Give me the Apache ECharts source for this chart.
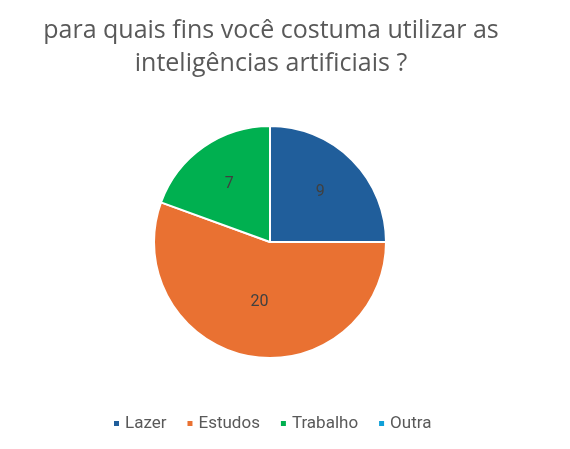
<!DOCTYPE html>
<html><head><meta charset="utf-8">
<script src="https://cdn.jsdelivr.net/npm/echarts@6/dist/echarts.min.js"></script>
<style>html,body{margin:0;padding:0;background:#fff}#c{width:570px;height:449px}</style>
</head><body><div id="c"></div>
<script>
const titleLines = ['para quais fins você costuma utilizar as', 'inteligências artificiais ?'];
const categories = ['Lazer', 'Estudos', 'Trabalho', 'Outra'];
const values = [9, 20, 7, 0];
const colors = ['#205E9B', '#E97132', '#00B050', '#10A0D8'];
const outerLabelCats = ['Lazer', 'Trabalho'];

const chart = echarts.init(document.getElementById('c'), null, {renderer: 'canvas'});
const font = 'Roboto, "Open Sans", sans-serif';
const mainData = categories.map((c, i) => ({
  name: c, value: values[i],
  itemStyle: {color: colors[i]},
  label: {show: values[i] > 0 && !outerLabelCats.includes(c)}
}));
const overlayData = categories.map((c, i) => ({
  name: c, value: values[i],
  label: {show: values[i] > 0 && outerLabelCats.includes(c)}
}));
chart.setOption({
  animation: false,
  title: {
    text: titleLines.join('\n'),
    left: 266, top: 9, textAlign: 'center',
    textStyle: {fontFamily: '"Open Sans", sans-serif', fontSize: 25, fontWeight: 'normal', color: '#595959', lineHeight: 33}
  },
  legend: {
    data: categories,
    top: 410, left: 107,
    icon: 'rect', itemWidth: 7, itemHeight: 7, itemGap: 19,
    textStyle: {fontFamily: font, fontSize: 17, color: '#595959'}
  },
  series: [{
    type: 'pie', radius: [0, 116], center: [270, 242],
    startAngle: 90, clockwise: true,
    data: mainData,
    itemStyle: {borderColor: '#fff', borderWidth: 2},
    label: {position: 'inside', fontFamily: font, fontSize: 16, color: '#404040', formatter: '{c}'},
    labelLine: {show: false},
    emphasis: {disabled: true}
  }, {
    type: 'pie', radius: [0, 136], center: [270, 242],
    startAngle: 90, clockwise: true, silent: true,
    data: overlayData,
    itemStyle: {color: 'rgba(0,0,0,0)', borderWidth: 0},
    label: {position: 'inside', fontFamily: font, fontSize: 16, color: '#404040', formatter: '{c}'},
    labelLine: {show: false},
    emphasis: {disabled: true}
  }]
});
</script></body></html>
